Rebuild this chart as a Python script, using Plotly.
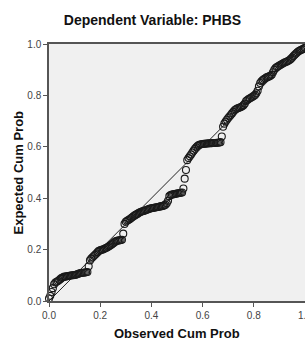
import plotly.graph_objects as go

# Observed cumulative probability (x) and expected cumulative probability (y)
OBSERVED = [
    0.000, 0.005, 0.010, 0.015, 0.020, 0.025, 0.030, 0.035, 0.040, 0.045,
    0.050, 0.055, 0.060, 0.065, 0.070, 0.075, 0.080, 0.085, 0.090, 0.095,
    0.100, 0.105, 0.110, 0.115, 0.120, 0.125, 0.130, 0.135, 0.140, 0.145,
    0.150, 0.155, 0.160, 0.165, 0.170, 0.175, 0.180, 0.185, 0.190, 0.195,
    0.200, 0.205, 0.210, 0.215, 0.220, 0.225, 0.230, 0.235, 0.240, 0.245,
    0.250, 0.255, 0.260, 0.265, 0.270, 0.275, 0.280, 0.285, 0.290, 0.295,
    0.300, 0.305, 0.310, 0.315, 0.320, 0.325, 0.330, 0.335, 0.340, 0.345,
    0.350, 0.355, 0.360, 0.365, 0.370, 0.375, 0.380, 0.385, 0.390, 0.395,
    0.400, 0.405, 0.410, 0.415, 0.420, 0.425, 0.430, 0.435, 0.440, 0.445,
    0.450, 0.455, 0.460, 0.465, 0.470, 0.475, 0.480, 0.485, 0.490, 0.495,
    0.500, 0.505, 0.510, 0.515, 0.520, 0.525, 0.530, 0.535, 0.540, 0.545,
    0.550, 0.555, 0.560, 0.565, 0.570, 0.575, 0.580, 0.585, 0.590, 0.595,
    0.600, 0.605, 0.610, 0.615, 0.620, 0.625, 0.630, 0.635, 0.640, 0.645,
    0.650, 0.655, 0.660, 0.665, 0.670, 0.675, 0.680, 0.685, 0.690, 0.695,
    0.700, 0.705, 0.710, 0.715, 0.720, 0.725, 0.730, 0.735, 0.740, 0.745,
    0.750, 0.755, 0.760, 0.765, 0.770, 0.775, 0.780, 0.785, 0.790, 0.795,
    0.800, 0.805, 0.810, 0.815, 0.820, 0.825, 0.830, 0.835, 0.840, 0.845,
    0.850, 0.855, 0.860, 0.865, 0.870, 0.875, 0.880, 0.885, 0.890, 0.895,
    0.900, 0.905, 0.910, 0.915, 0.920, 0.925, 0.930, 0.935, 0.940, 0.945,
    0.950, 0.955, 0.960, 0.965, 0.970, 0.975, 0.980, 0.985, 0.990, 0.995,
    1.000,
]

EXPECTED = [
    0.010, 0.020, 0.035, 0.050, 0.065, 0.072, 0.075, 0.078, 0.082, 0.086,
    0.090, 0.092, 0.095, 0.095, 0.096, 0.097, 0.098, 0.099, 0.100, 0.100,
    0.101, 0.102, 0.104, 0.106, 0.108, 0.109, 0.110, 0.110, 0.111, 0.112,
    0.113, 0.135, 0.158, 0.165, 0.170, 0.175, 0.180, 0.185, 0.190, 0.195,
    0.197, 0.199, 0.200, 0.202, 0.205, 0.207, 0.210, 0.213, 0.217, 0.220,
    0.224, 0.228, 0.232, 0.234, 0.235, 0.236, 0.237, 0.238, 0.262, 0.300,
    0.308, 0.312, 0.315, 0.318, 0.322, 0.326, 0.330, 0.333, 0.336, 0.339,
    0.342, 0.345, 0.347, 0.349, 0.350, 0.352, 0.354, 0.356, 0.358, 0.360,
    0.361, 0.362, 0.363, 0.364, 0.365, 0.366, 0.367, 0.368, 0.369, 0.370,
    0.372, 0.375, 0.380, 0.390, 0.408, 0.412, 0.414, 0.415, 0.416, 0.417,
    0.418, 0.419, 0.420, 0.421, 0.422, 0.438, 0.476, 0.510, 0.548, 0.556,
    0.563, 0.570, 0.578, 0.585, 0.592, 0.598, 0.603, 0.607, 0.609, 0.610,
    0.611, 0.612, 0.612, 0.613, 0.613, 0.614, 0.614, 0.614, 0.615, 0.615,
    0.615, 0.616, 0.616, 0.617, 0.618, 0.640, 0.678, 0.690, 0.698, 0.705,
    0.712, 0.718, 0.724, 0.730, 0.736, 0.742, 0.746, 0.749, 0.751, 0.753,
    0.755, 0.758, 0.762, 0.768, 0.778, 0.782, 0.786, 0.789, 0.792, 0.795,
    0.798, 0.802, 0.808, 0.818, 0.835, 0.848, 0.855, 0.860, 0.864, 0.867,
    0.870, 0.872, 0.874, 0.876, 0.880, 0.890, 0.900, 0.906, 0.910, 0.913,
    0.916, 0.919, 0.922, 0.925, 0.928, 0.930, 0.932, 0.935, 0.938, 0.942,
    0.947, 0.953, 0.958, 0.963, 0.968, 0.972, 0.975, 0.977, 0.979, 0.982,
    0.985,
]

DIAG_X = [0.0, 1.0]
DIAG_Y = [0.0, 1.0]

TICKS = [0.0, 0.2, 0.4, 0.6, 0.8, 1.0]
TICK_LABELS = ["0.0", "0.2", "0.4", "0.6", "0.8", "1.0"]

TITLE = "Dependent Variable: PHBS"
X_TITLE = "Observed Cum Prob"
Y_TITLE = "Expected Cum Prob"

FONT = "Arial, Liberation Sans, sans-serif"

fig = go.Figure()
fig.add_trace(go.Scatter(
    x=DIAG_X, y=DIAG_Y, mode="lines",
    line=dict(color="#222222", width=1),
    hoverinfo="skip", showlegend=False, cliponaxis=False,
))
fig.add_trace(go.Scatter(
    x=OBSERVED, y=EXPECTED, mode="markers",
    marker=dict(symbol="circle-open", size=7, color="#1a1a1a",
                line=dict(width=1.1, color="#1a1a1a")),
    showlegend=False, cliponaxis=False,
))

axis_common = dict(
    range=[0, 1], tickvals=TICKS, ticktext=TICK_LABELS,
    ticks="outside", ticklen=4, tickwidth=1, tickcolor="#555555",
    showline=True, linecolor="#555555", linewidth=1.5, mirror=True,
    showgrid=False, zeroline=False, automargin=False,
    tickfont=dict(family=FONT, size=10, color="#444444"),
    ticklabeloverflow="allow",
)

fig.update_layout(
    width=305, height=340,
    margin=dict(l=49, r=0, t=44, b=39, autoexpand=False),
    paper_bgcolor="white", plot_bgcolor="#f0f0f0",
    xaxis=axis_common,
    yaxis=axis_common,
    title=dict(text="<b>" + TITLE + "</b>", x=0.5, xref="container", xanchor="center",
               y=1 - 20 / 340, yref="container", yanchor="middle",
               font=dict(family=FONT, size=14, color="#111111")),
    annotations=[
        dict(text="<b>" + X_TITLE + "</b>", xref="paper", yref="paper",
             x=0.5, y=-32 / 257, xanchor="center", yanchor="middle", showarrow=False,
             font=dict(family=FONT, size=13, color="#111111")),
        dict(text="<b>" + Y_TITLE + "</b>", xref="paper", yref="paper",
             x=-31 / 256, y=0.5, xanchor="center", yanchor="middle", showarrow=False,
             textangle=-90, font=dict(family=FONT, size=13, color="#111111")),
    ],
)

fig.write_html(
    "out.html",
    config={"displayModeBar": False},
    post_script="document.body.style.margin='0';document.body.style.overflow='hidden';"
                "document.documentElement.style.overflow='hidden';",
)
